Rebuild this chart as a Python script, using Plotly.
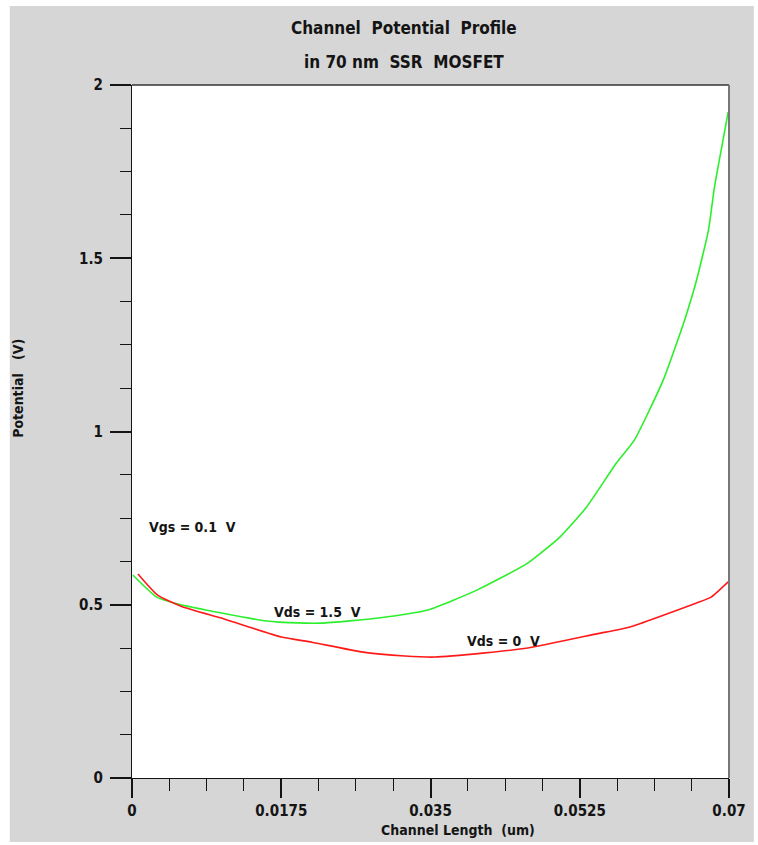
import plotly.graph_objects as go

# Channel position (um) and surface potential (V) along the channel
vds15_x = [0.0001, 0.0029, 0.0054, 0.0105, 0.0158, 0.0172, 0.0222, 0.0289, 0.0347,
           0.0405, 0.0464, 0.0502, 0.0533, 0.0568, 0.0589, 0.0623, 0.0648, 0.0662,
           0.0676, 0.0683, 0.0693, 0.0699]
vds15_y = [0.586, 0.522, 0.502, 0.476, 0.453, 0.450, 0.447, 0.462, 0.485,
           0.543, 0.620, 0.696, 0.782, 0.909, 0.975, 1.149, 1.322, 1.437,
           1.582, 1.706, 1.841, 1.922]

vds0_x = [0.0007, 0.0030, 0.0059, 0.0108, 0.0175, 0.0211, 0.0269, 0.0320, 0.0355,
          0.0414, 0.0464, 0.0545, 0.0584, 0.0623, 0.0662, 0.0679, 0.0699]
vds0_y = [0.589, 0.528, 0.494, 0.459, 0.407, 0.392, 0.364, 0.352, 0.349,
          0.361, 0.375, 0.416, 0.436, 0.470, 0.505, 0.522, 0.566]

x_ticks = [0, 0.0175, 0.035, 0.0525, 0.07]
x_tick_labels = ["0", "0.0175", "0.035", "0.0525", "0.07"]
y_ticks = [0, 0.5, 1, 1.5, 2]
y_tick_labels = ["0", "0.5", "1", "1.5", "2"]

# Curve labels: (text, x, y)
curve_labels = [
    ("Vgs = 0.1\u00a0\u00a0V", 0.0018, 0.725),
    ("Vds = 1.5\u00a0\u00a0V", 0.0164, 0.480),
    ("Vds = 0\u00a0\u00a0V", 0.0391, 0.396),
]

FONT = "Liberation Sans Narrow, DejaVu Sans Condensed, Arial Narrow, sans-serif"
GRAY = "#d6d6d6"
INK = "#141414"

fig = go.Figure()
fig.add_trace(go.Scatter(x=vds15_x, y=vds15_y, mode="lines",
                         line=dict(color="#2bef2b", width=1.6, shape="spline", smoothing=0.5),
                         showlegend=False))
fig.add_trace(go.Scatter(x=vds0_x, y=vds0_y, mode="lines",
                         line=dict(color="#ff1a1a", width=1.6, shape="spline", smoothing=0.5),
                         showlegend=False))

annotations = []
for text, ax_, ay_ in curve_labels:
    annotations.append(dict(text="<b>" + text + "</b>", x=ax_, y=ay_, xref="x", yref="y",
                            xanchor="left", yanchor="middle", showarrow=False,
                            font=dict(family=FONT, size=14, color=INK)))

# Two-line title
annotations.append(dict(text="<b>Channel\u00a0\u00a0Potential\u00a0\u00a0Profile</b>", x=0.456, y=1.082,
                        xref="paper", yref="paper", showarrow=False,
                        xanchor="center", yanchor="middle",
                        font=dict(family=FONT, size=17, color=INK)))
annotations.append(dict(text="<b>in 70 nm\u00a0\u00a0SSR\u00a0\u00a0MOSFET</b>", x=0.456, y=1.033,
                        xref="paper", yref="paper", showarrow=False,
                        xanchor="center", yanchor="middle",
                        font=dict(family=FONT, size=17, color=INK)))
# Axis titles
annotations.append(dict(text="<b>Channel Length\u00a0\u00a0(um)</b>", x=0.546, y=-0.075,
                        xref="paper", yref="paper", showarrow=False,
                        xanchor="center", yanchor="middle",
                        font=dict(family=FONT, size=14, color=INK)))
annotations.append(dict(text="<b>Potential\u00a0\u00a0\u00a0(V)</b>", x=-0.191, y=0.563,
                        xref="paper", yref="paper", showarrow=False, textangle=-90,
                        xanchor="center", yanchor="middle",
                        font=dict(family=FONT, size=14, color=INK)))

shapes = [
    # grey page panel
    dict(type="rect", xref="paper", yref="paper", x0=-0.2047, x1=1.0416,
         y0=-0.0924, y1=1.114, fillcolor=GRAY, line=dict(width=0), layer="below"),
    # white plotting area
    dict(type="rect", xref="paper", yref="paper", x0=0, x1=1, y0=0, y1=1,
         fillcolor="white", line=dict(width=0), layer="below"),
    # top frame edge
    dict(type="line", xref="paper", yref="paper", x0=0, x1=1, y0=1, y1=1,
         line=dict(color="#333", width=1.5), layer="above"),
    # right frame edge
    dict(type="line", xref="paper", yref="paper", x0=1, x1=1, y0=0, y1=1,
         line=dict(color="#777", width=2), layer="above"),
]

tickfont = dict(family=FONT, size=15, color=INK, weight="bold")

fig.update_layout(
    width=758, height=845,
    margin=dict(l=132, r=25, t=85, b=67),
    paper_bgcolor="white", plot_bgcolor="white",
    annotations=annotations, shapes=shapes,
    xaxis=dict(range=[0, 0.07], showgrid=False, zeroline=False,
               showline=True, linecolor=INK, linewidth=1,
               ticks="outside", ticklen=19, tickwidth=2, tickcolor=INK,
               tickvals=x_ticks, ticktext=x_tick_labels,
               tickfont=tickfont,
               minor=dict(dtick=0.004375, tick0=0, ticks="outside", ticklen=12,
                          tickwidth=1, tickcolor=INK, showgrid=False)),
    yaxis=dict(range=[0, 2], showgrid=False, zeroline=False,
               showline=True, linecolor=INK, linewidth=1,
               ticks="outside", ticklen=21, tickwidth=2, tickcolor=INK,
               tickvals=y_ticks, ticktext=y_tick_labels,
               ticklabelstandoff=4,
               tickfont=tickfont,
               minor=dict(dtick=0.125, tick0=0, ticks="outside", ticklen=11,
                          tickwidth=1, tickcolor=INK, showgrid=False)),
)

fig.write_html("out.html")
